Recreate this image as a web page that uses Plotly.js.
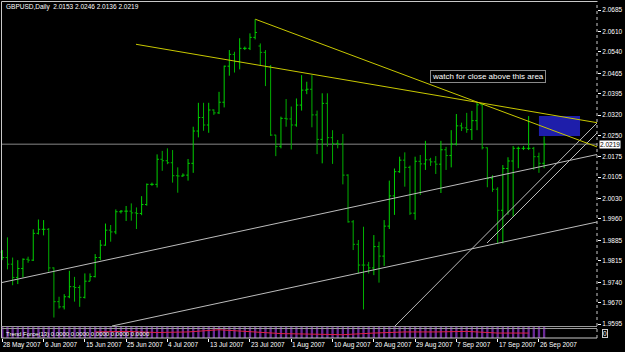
<!DOCTYPE html>
<html><head><meta charset="utf-8">
<script src="https://cdn.plot.ly/plotly-3.0.1.min.js"></script>
<style>html,body{margin:0;padding:0;background:#000;}#chart{width:625px;height:352px;}</style>
</head><body><div id="chart"></div>
<script>
// ---- data (bar index 0 = 28 May 2007, daily incl. Sunday bars) ----
const barOpen = [1.9845,1.9826,1.9803,1.9757,1.9788,1.9820,1.9817,1.9910,1.9924,1.9924,
1.9790,1.9673,1.9655,1.9690,1.9725,1.9722,1.9688,1.9744,1.9760,1.9826,
1.9869,1.9921,1.9915,1.9985,1.9987,1.9987,1.9981,1.9979,2.0010,2.0080,
2.0080,2.0167,2.0162,2.0155,2.0110,2.0109,2.0112,2.0153,2.0265,2.0312,
2.0286,2.0338,2.0328,2.0365,2.0490,2.0531,2.0506,2.0552,2.0552,2.0590,
2.0560,2.0538,2.0488,2.0251,2.0212,2.0309,2.0307,2.0286,2.0355,2.0407,
2.0410,2.0321,2.0236,2.0361,2.0242,2.0222,2.0220,2.0112,1.9950,1.9872,
1.9800,1.9800,1.9790,1.9864,1.9831,1.9935,2.0040,2.0124,2.0164,2.0139,
1.9980,2.0160,2.0151,2.0165,2.0158,2.0150,2.0200,2.0180,2.0220,2.0283,
2.0276,2.0270,2.0301,2.0356,2.0207,2.0100,2.0063,1.9990,2.0135,2.0161,
2.0205,2.0205,2.0205,2.0205,2.0176,2.0153];
const barHigh = [1.9852,1.9896,1.9826,1.9817,1.9823,1.9829,1.9924,1.9958,1.9956,1.9928,
1.9792,1.9690,1.9699,1.9780,1.9759,1.9730,1.9771,1.9771,1.9838,1.9887,
1.9944,1.9939,1.9993,1.9991,2.0005,2.0014,2.0000,2.0039,2.0083,2.0086,
2.0184,2.0196,2.0205,2.0199,2.0139,2.0118,2.0168,2.0280,2.0363,2.0363,
2.0363,2.0340,2.0401,2.0492,2.0546,2.0540,2.0587,2.0558,2.0604,2.0653,
2.0569,2.0546,2.0494,2.0252,2.0315,2.0376,2.0350,2.0378,2.0459,2.0436,
2.0459,2.0336,2.0396,2.0396,2.0268,2.0234,2.0255,2.0115,1.9956,1.9887,
1.9933,1.9811,1.9904,1.9881,1.9956,2.0093,2.0135,2.0176,2.0191,2.0145,
2.0176,2.0182,2.0231,2.0172,2.0178,2.0231,2.0210,2.0268,2.0324,2.0294,
2.0328,2.0335,2.0363,2.0358,2.0208,2.0112,2.0070,2.0147,2.0174,2.0213,
2.0211,2.0213,2.0317,2.0210,2.0190,2.0246];
const barLow = [1.9817,1.9785,1.9730,1.9734,1.9757,1.9808,1.9814,1.9906,1.9903,1.9777,
1.9618,1.9649,1.9646,1.9685,1.9673,1.9655,1.9684,1.9744,1.9757,1.9817,
1.9867,1.9881,1.9907,1.9979,1.9953,1.9954,1.9925,1.9973,2.0006,2.0075,
2.0069,2.0127,2.0150,2.0086,2.0051,2.0106,2.0093,2.0120,2.0243,2.0266,
2.0259,2.0321,2.0324,2.0347,2.0457,2.0468,2.0479,2.0546,2.0546,2.0583,
2.0491,2.0421,2.0248,2.0178,2.0205,2.0280,2.0201,2.0280,2.0336,2.0393,
2.0278,2.0185,2.0153,2.0211,2.0151,2.0205,2.0080,1.9947,1.9852,1.9771,
1.9646,1.9771,1.9765,1.9739,1.9797,1.9925,1.9974,2.0120,2.0072,1.9974,
1.9957,2.0043,2.0130,2.0144,2.0116,2.0050,2.0130,2.0139,2.0215,2.0265,
2.0259,2.0234,2.0268,2.0201,2.0070,2.0054,1.9875,1.9875,1.9974,1.9968,
2.0136,2.0199,2.0199,2.0130,2.0120,2.0136];
const barClose = [1.9826,1.9803,1.9757,1.9788,1.9820,1.9817,1.9910,1.9924,1.9924,1.9790,
1.9673,1.9655,1.9690,1.9725,1.9722,1.9688,1.9744,1.9760,1.9826,1.9869,
1.9921,1.9915,1.9985,1.9987,1.9987,1.9981,1.9979,2.0010,2.0080,2.0080,
2.0167,2.0162,2.0155,2.0110,2.0109,2.0112,2.0153,2.0265,2.0312,2.0286,
2.0338,2.0328,2.0365,2.0490,2.0531,2.0506,2.0552,2.0552,2.0590,2.0607,
2.0538,2.0488,2.0251,2.0211,2.0309,2.0307,2.0286,2.0355,2.0407,2.0410,
2.0321,2.0236,2.0361,2.0242,2.0222,2.0220,2.0112,1.9950,1.9872,1.9800,
1.9800,1.9790,1.9864,1.9831,1.9935,2.0040,2.0124,2.0164,2.0139,1.9980,
2.0160,2.0151,2.0165,2.0158,2.0150,2.0200,2.0180,2.0220,2.0283,2.0276,
2.0270,2.0301,2.0356,2.0207,2.0100,2.0063,1.9990,2.0135,2.0161,2.0205,
2.0205,2.0205,2.0205,2.0176,2.0153,2.0219];
const barIdx = barOpen.map((_, i) => i);

const dateTickIdx = [0,8,16,24,32,40,48,56,64,72,80,88,96,104];
const dateTickText = ['28 May 2007','6 Jun 2007','15 Jun 2007','25 Jun 2007','4 Jul 2007','13 Jul 2007',
  '23 Jul 2007','1 Aug 2007','10 Aug 2007','20 Aug 2007','29 Aug 2007','7 Sep 2007','17 Sep 2007','26 Sep 2007'];
const priceTicks = [2.0685,2.0610,2.0540,2.0465,2.0395,2.0320,2.0250,2.0175,2.0105,2.0030,
  1.9960,1.9885,1.9815,1.9740,1.9670,1.9595];
const priceTickText = ['2.0685','2.0610','2.0540','2.0465','2.0395','2.0320','2.0250','2.0175','2.0105','2.0030',
  '1.9960','1.9885','1.9815','1.9740','1.9670','1.9595'];
const bidPrice = 2.0219;
const titleText = 'GBPUSD,Daily\u00a0\u00a02.0153 2.0246 2.0136 2.0219';

// trend lines: [bar index, price] end points
const yellowA_x = [49.03, 115.25], yellowA_y = [2.0653, 2.0210];
const yellowB_x = [25.91, 115.25], yellowB_y = [2.0566, 2.0294];
const whiteC_x = [-0.06, 115.25],  whiteC_y = [1.97394, 2.01836];
const whiteD_x = [21.26, 115.25],  whiteD_y = [1.95885, 1.99494];
const whiteE_x = [76.1, 115.25],   whiteE_y = [1.95885, 2.02929];
const whiteF_x = [93.93, 115.25],  whiteF_y = [1.98765, 2.02582];
const boxX = [104.0, 111.96], boxY = [2.0248, 2.0317];
const noteText = 'watch for close above this area';
const noteAt = [94.1, 2.0456];

// indicator sub-window (rough)
const indHist = [1,1,1,1,1,1,1,1,1,1,1,1,1,1,1,1,1,1,1,1,1,1,1,1,1,1,1,1,1,1,
1,1,1,1,1,1,1,1,1,1,1,1,1,1,1,1,1,1,1,1,1,1,1,1,1,1,1,1,1,1,
1,1,1,1,1,1,1,1,1,1,1,1,1,1,1,1,1,1,1,1,1,1,1,1,1,1,1,1,1,1,
1,1,1,1,1,1,1,1,1,1,1,1,1,1,1,1];
const indRedX = [18,24,30,36,42,48,54,60,66,72,78,84,90,96,102];
const indRedY = [0.55,0.6,0.5,0.55,0.75,0.55,0.4,0.35,0.3,0.45,0.55,0.55,0.6,0.45,0.45];
const indText = 'Trend Force(13) 0.0000 0.0000 0.0000 0.0000 0.0000';

// ---- figure ----
const W = 625, Hh = 352;
const px = v => v / W, py = v => (Hh - v) / Hh;
const FONT = 'Liberation Sans, Arial, sans-serif';
const yel = '#c8c800', wht = '#bcbcbc';

function seg(xs, ys, color) {
  return {type:'scatter', mode:'lines', x:xs, y:ys, xaxis:'x', yaxis:'y',
    line:{color:color, width:1}, hoverinfo:'skip', showlegend:false};
}

const traces = [
  {type:'bar', x:barIdx, y:indHist, xaxis:'x', yaxis:'y2', width:0.45,
   marker:{color:'#6a2a96', line:{width:0}}, hoverinfo:'skip', showlegend:false},
  {type:'scatter', mode:'lines', x:indRedX, y:indRedY, xaxis:'x', yaxis:'y2',
   line:{color:'#e0204a', width:1}, hoverinfo:'skip', showlegend:false},
  seg(whiteC_x, whiteC_y, wht), seg(whiteD_x, whiteD_y, wht),
  seg(whiteE_x, whiteE_y, wht), seg(whiteF_x, whiteF_y, wht),
  {type:'ohlc', x:barIdx, open:barOpen, high:barHigh, low:barLow, close:barClose,
   xaxis:'x', yaxis:'y', tickwidth:0.35,
   increasing:{line:{color:'#00d000', width:1}}, decreasing:{line:{color:'#00b000', width:1}},
   hoverinfo:'skip', showlegend:false},
  seg(yellowA_x, yellowA_y, yel), seg(yellowB_x, yellowB_y, yel)
];

const shapes = [
  {type:'rect', xref:'x', yref:'y', x0:boxX[0], x1:boxX[1], y0:boxY[0], y1:boxY[1],
   fillcolor:'#1e1eaa', line:{width:0}, layer:'below'},
  {type:'line', xref:'paper', yref:'y', x0:px(2), x1:px(597), y0:bidPrice, y1:bidPrice,
   line:{color:'#5a5a5a', width:1.5}, layer:'below'},
  // frame
  {type:'line', xref:'paper', yref:'paper', x0:px(1.5), x1:px(1.5), y0:py(338), y1:py(1.5), line:{color:'#c8c8c8', width:1}},
  {type:'line', xref:'paper', yref:'paper', x0:px(1.5), x1:px(597), y0:py(1.5), y1:py(1.5), line:{color:'#c8c8c8', width:1}},
  {type:'line', xref:'paper', yref:'paper', x0:px(597), x1:px(597), y0:py(338), y1:py(1), line:{color:'#c8c8c8', width:1, dash:'dot'}},
  {type:'line', xref:'paper', yref:'paper', x0:px(1.5), x1:px(597), y0:py(326.5), y1:py(326.5), line:{color:'#9a9a9a', width:1}},
  {type:'line', xref:'paper', yref:'paper', x0:px(1.5), x1:px(597), y0:py(328.5), y1:py(328.5), line:{color:'#9a9a9a', width:1}},
  {type:'line', xref:'paper', yref:'paper', x0:px(1.5), x1:px(597), y0:py(338), y1:py(338), line:{color:'#c8c8c8', width:1}}
];

const annotations = [
  {xref:'paper', yref:'paper', x:px(4), y:py(7), xanchor:'left', yanchor:'middle', showarrow:false,
   text:titleText, font:{family:FONT, size:6.5, color:'#ffffff'}},
  {xref:'x', yref:'y', x:noteAt[0], y:noteAt[1], xanchor:'center', yanchor:'middle', showarrow:false,
   text:noteText, font:{family:FONT, size:8, color:'#ffffff'}, bordercolor:'#8a8a8a', borderwidth:1, borderpad:1, bgcolor:'#000000'},
  {xref:'paper', yref:'y', x:px(599), y:bidPrice, xanchor:'left', yanchor:'middle', showarrow:false,
   text:'2.0219', font:{family:FONT, size:6.5, color:'#000000'}, bgcolor:'#ffffff', borderpad:0},
  {xref:'paper', yref:'paper', x:px(602), y:py(333), xanchor:'left', yanchor:'middle', showarrow:false,
   text:'0', font:{family:FONT, size:6.5, color:'#ffffff'}, bordercolor:'#cccccc', borderwidth:1, borderpad:0},
  {xref:'paper', yref:'paper', x:px(4), y:py(334), xanchor:'left', yanchor:'middle', showarrow:false,
   text:indText, font:{family:FONT, size:6, color:'#ffffff'}}
];
dateTickIdx.forEach((d, k) => annotations.push({
  xref:'x', yref:'paper', x:d, y:py(344.5), xanchor:'left', yanchor:'middle', showarrow:false, xshift:-1,
  text:dateTickText[k], font:{family:FONT, size:6.5, color:'#ffffff'}}));

const layout = {
  width:W, height:Hh, margin:{l:0, r:0, t:0, b:0},
  paper_bgcolor:'#000000', plot_bgcolor:'#000000', showlegend:false,
  xaxis:{domain:[0, 597/W], range:[-0.446, 115.25], anchor:'y2', showgrid:false, zeroline:false,
    showticklabels:false, tickvals:dateTickIdx, ticks:'outside', ticklen:3, tickcolor:'#ffffff',
    rangeslider:{visible:false}, fixedrange:true},
  yaxis:{domain:[26/Hh, 1], range:[1.95885, 2.07197], side:'right', anchor:'x', showgrid:false, zeroline:false,
    tickvals:priceTicks, ticktext:priceTickText, ticks:'outside', ticklen:3, tickcolor:'#ffffff',
    tickfont:{family:FONT, size:6.5, color:'#ffffff'}, showline:false},
  yaxis2:{domain:[14/Hh, 25/Hh], range:[0, 1], side:'right', anchor:'x', showgrid:false, zeroline:false,
    showticklabels:false, ticks:''},
  shapes:shapes, annotations:annotations
};

Plotly.newPlot('chart', traces, layout, {staticPlot:true, displayModeBar:false});
</script></body></html>
